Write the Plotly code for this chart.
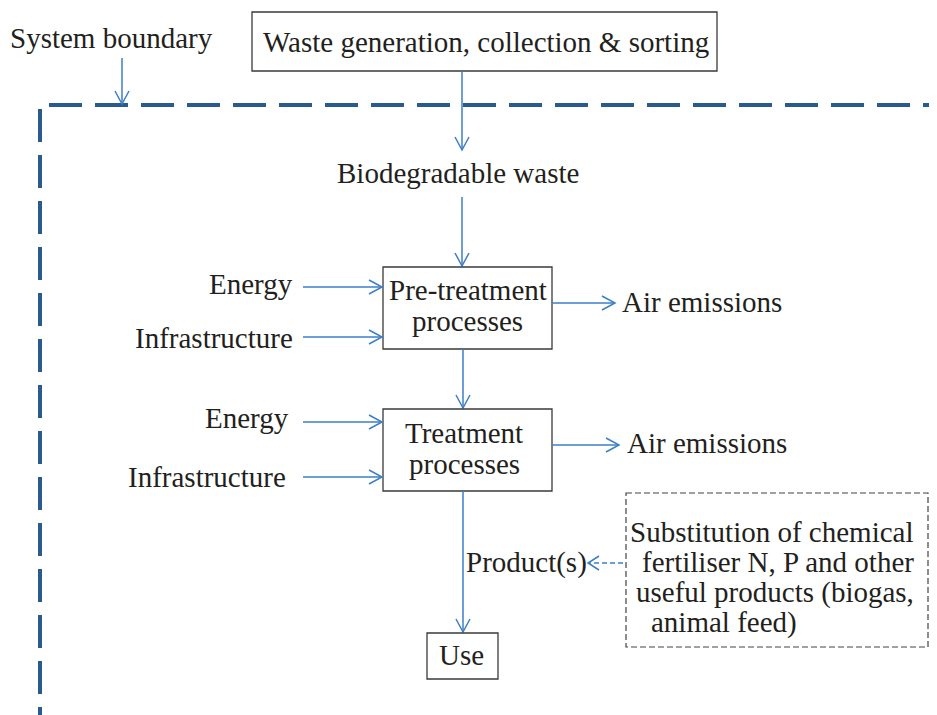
import plotly.graph_objects as go

# ---- content ----
top_label = "Waste generation, collection & sorting"
boundary_label = "System boundary"
waste_label = "Biodegradable waste"
stage_labels = [["Pre-treatment", "processes"], ["Treatment", "processes"]]
input_labels = ["Energy", "Infrastructure"]
output_label = "Air emissions"
product_label = "Product(s)"
use_label = "Use"
substitution_lines = ["Substitution of chemical", "fertiliser N, P and other",
                      "useful products (biogas,", "animal feed)"]

W, H = 937, 715
OFF = 8  # default page body margin
FONT = "Liberation Serif"
FS = 29
TXT = "#231f20"
BLUE = "#3d7fc6"
BOUND = "#2a5b8e"
BOX = "#3a3a3a"

shapes = []
annots = []


def box(x0, y0, x1, y1, dash=None, color=BOX, width=1.3):
    shapes.append(dict(type="rect", xref="x", yref="y", x0=x0, y0=y0, x1=x1, y1=y1,
                       line=dict(color=color, width=width, dash=dash), fillcolor="rgba(0,0,0,0)"))


def arrow(x0, y0, x1, y1, dash=None, hl=13, hw=7):
    shapes.append(dict(type="line", xref="x", yref="y", x0=x0, y0=y0, x1=x1, y1=y1,
                       line=dict(color=BLUE, width=1.5, dash=dash)))
    dx, dy = x1 - x0, y1 - y0
    L = (dx * dx + dy * dy) ** 0.5
    ux, uy = dx / L, dy / L
    px, py = -uy, ux
    bx, by = x1 - ux * hl, y1 - uy * hl
    path = (f"M {bx + px * hw},{by + py * hw} L {x1},{y1} L {bx - px * hw},{by - py * hw}")
    shapes.append(dict(type="path", xref="x", yref="y", path=path,
                       line=dict(color=BLUE, width=1.5)))


def text(x, y, s, anchor="center", size=FS):
    annots.append(dict(x=x, y=y, xref="x", yref="y", text=s, showarrow=False,
                       xanchor=anchor, yanchor="middle", align=anchor if anchor != "center" else "center",
                       font=dict(family=FONT, size=size, color=TXT)))


# system boundary (dashed)
shapes.append(dict(type="line", xref="x", yref="y", x0=49, y0=105, x1=945, y1=105,
                   line=dict(color=BOUND, width=4, dash="33px,13px")))
shapes.append(dict(type="line", xref="x", yref="y", x0=40, y0=109, x1=40, y1=725,
                   line=dict(color=BOUND, width=4, dash="33px,13px")))
text(111, 38, boundary_label)
arrow(122, 58, 122, 104)

# top box
box(252, 12, 717, 71)
text(486, 42, top_label)
arrow(462, 71, 462, 150)
text(458, 173, waste_label)
arrow(462, 197, 462, 266)

# pre-treatment box
box(383, 267, 552, 349)
text(468, 290, stage_labels[0][0])
text(467, 321, stage_labels[0][1])
text(295, 284, input_labels[0], anchor="right")
arrow(303, 287, 382, 287)
text(295, 338, input_labels[1], anchor="right")
arrow(303, 337, 382, 337)
arrow(552, 303, 615, 303)
text(620, 302, output_label, anchor="left")

arrow(463, 349, 463, 408)

# treatment box
box(383, 409, 552, 491)
text(464, 433, stage_labels[1][0])
text(464, 464, stage_labels[1][1])
text(291, 418, input_labels[0], anchor="right")
arrow(303, 422, 382, 422)
text(288, 477, input_labels[1], anchor="right")
arrow(303, 477, 382, 477)
arrow(552, 445, 619, 445)
text(625, 443, output_label, anchor="left")

# product / use
arrow(463, 491, 463, 632)
box(427, 633, 498, 679)
text(461, 655, use_label)
text(464, 562, product_label, anchor="left")
arrow(623, 563, 588, 563, dash="5px,3px", hl=11, hw=7)

# substitution box
box(626, 493, 928, 647, dash="6px,3px", color="#444444", width=1.2)
text(916, 532, substitution_lines[0], anchor="right")
text(916, 562, substitution_lines[1], anchor="right")
text(916, 592, substitution_lines[2], anchor="right")
text(649, 622, substitution_lines[3], anchor="left")

fig = go.Figure()
fig.update_layout(
    width=W - OFF, height=H - OFF, margin=dict(l=0, r=0, t=0, b=0),
    paper_bgcolor="white", plot_bgcolor="white",
    xaxis=dict(range=[OFF, W], visible=False, fixedrange=True),
    yaxis=dict(range=[H, OFF], visible=False, fixedrange=True),
    shapes=shapes, annotations=annots, showlegend=False,
)
fig.write_html("out.html")
